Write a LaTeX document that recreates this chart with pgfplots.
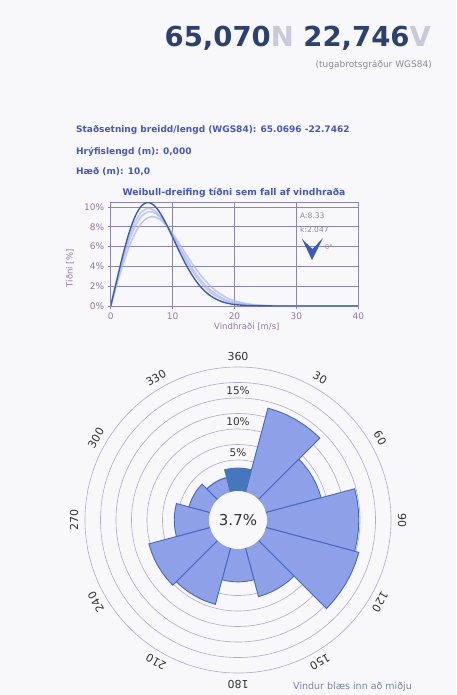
\documentclass[border=0pt]{standalone}
\usepackage{pgfplots}
\pgfplotsset{compat=1.18}
\usepgfplotslibrary{polar}
\usepackage{fontspec}
\setmainfont{DejaVu Sans}
\definecolor{bgc}{HTML}{F8F8FA}
\definecolor{titleblue}{HTML}{2D4170}
\definecolor{titlelight}{HTML}{C9C9DB}
\definecolor{subgray}{HTML}{8A8A9A}
\definecolor{infoblue}{HTML}{4457C4}
\definecolor{gridc}{HTML}{8C84B4}
\definecolor{tickc}{HTML}{8F7A9F}
\definecolor{curvec}{HTML}{3A5CB2}
\definecolor{faintc}{HTML}{A9B7EC}
\definecolor{rosefill}{HTML}{8EA0E8}
\definecolor{roseedge}{HTML}{4467C4}
\definecolor{selfill}{HTML}{4677BC}
\definecolor{ringc}{HTML}{B1A8D2}
\definecolor{labeldark}{HTML}{333333}
\definecolor{footc}{HTML}{7C82A8}
\begin{document}
\begin{tikzpicture}[x=1pt,y=1pt]
\useasboundingbox (0,0) rectangle (456,-695);
\fill[bgc] (0,0) rectangle (456,-695);
% header
\node[anchor=base east, inner sep=0] at (431,-47) {\fontsize{27.5}{30}\selectfont\bfseries\color{titleblue}65,070\textcolor{titlelight}{N} 22,746\textcolor{titlelight}{V}};
\node[anchor=base east, inner sep=0] at (432,-68) {\fontsize{9}{10}\selectfont\color{subgray}(tugabrotsgráður WGS84)};
\node[anchor=base west, inner sep=0] at (76,-133) {\fontsize{9}{11}\selectfont\bfseries\color{infoblue}Staðsetning breidd/lengd (WGS84): 65.0696 -22.7462};
\node[anchor=base west, inner sep=0] at (76,-155) {\fontsize{9}{11}\selectfont\bfseries\color{infoblue}Hrýfislengd (m): 0,000};
\node[anchor=base west, inner sep=0] at (76,-175) {\fontsize{9}{11}\selectfont\bfseries\color{infoblue}Hæð (m): 10,0};
\node[anchor=base, inner sep=0] at (234,-195) {\fontsize{9.2}{11}\selectfont\bfseries\color{infoblue}Weibull-dreifing tíðni sem fall af vindhraða};
% Weibull plot
\begin{axis}[at={(110.7pt,-306pt)}, anchor=south west, scale only axis,
  width=247.6pt, height=104pt,
  xmin=0, xmax=40, ymin=0, ymax=10.5,
  xtick={0,10,20,30,40}, ytick={0,2,4,6,8,10},
  yticklabel={\pgfmathprintnumber{\tick}\%},
  grid=major, grid style={color=gridc, line width=0.6pt},
  axis line style={color=gridc, line width=0.6pt},
  tick style={color=gridc, line width=0.6pt},
  tick align=outside, tick pos=left, major tick length=3pt,
  ticklabel style={font=\fontsize{9}{10}\selectfont, color=tickc},
  /pgf/number format/assume math mode=true,
  xlabel={Vindhraði [m/s]}, ylabel={Tíðni [\%]},
  label style={font=\fontsize{8.5}{10}\selectfont, color=tickc},
  xlabel style={at={(axis description cs:0.55,-0.2)}, anchor=center},
  ylabel style={at={(axis description cs:-0.165,0.36)}, anchor=center},
  clip=true]
\addplot[faintc, opacity=0.7, line width=1.6pt, smooth] coordinates {
 (0,0) (1,2.44) (2,4.70) (3,6.63) (4,8.11) (5,9.07) (6,9.50) (7,9.44) (8,8.96) (9,8.18) (10,7.18) (11,6.10) (12,5.01) (13,3.99) (14,3.08) (15,2.30) (16,1.68) (17,1.19) (18,0.81) (19,0.54) (20,0.35) (22,0.14) (25,0.03) (30,0) (40,0)};
\addplot[faintc, opacity=0.7, line width=1.6pt, smooth] coordinates {
 (0,0) (1,2.19) (2,4.24) (3,6.02) (4,7.42) (5,8.40) (6,8.92) (7,9.01) (8,8.72) (9,8.13) (10,7.32) (11,6.38) (12,5.39) (13,4.43) (14,3.54) (15,2.75) (16,2.08) (17,1.53) (18,1.10) (19,0.77) (20,0.53) (22,0.23) (25,0.05) (30,0) (40,0)};
\addplot[faintc, opacity=0.7, line width=1.6pt, smooth] coordinates {
 (0,0) (1,2.61) (2,5.01) (3,7.04) (4,8.56) (5,9.50) (6,9.85) (7,9.68) (8,9.08) (9,8.16) (10,7.05) (11,5.88) (12,4.73) (13,3.68) (14,2.78) (15,2.03) (16,1.44) (17,0.99) (18,0.66) (19,0.43) (20,0.27) (22,0.10) (25,0.02) (30,0) (40,0)};
\addplot[curvec, line width=1.4pt, smooth] coordinates {
 (0,0) (1,2.64) (2,5.23) (3,7.45) (4,9.12) (5,10.13) (6,10.46) (7,10.17) (8,9.38) (9,8.26) (10,6.95) (11,5.62) (12,4.36) (13,3.26) (14,2.34) (15,1.62) (16,1.08) (17,0.70) (18,0.43) (19,0.26) (20,0.15) (22,0.05) (25,0.01) (30,0) (40,0)};
\end{axis}
\node[anchor=base west, inner sep=0, color=subgray] at (300,-218) {\fontsize{7.5}{9}\selectfont A:8.33};
\node[anchor=base west, inner sep=0, color=subgray] at (300,-232) {\fontsize{7.5}{9}\selectfont k:2.047};
\fill[curvec] (302,-239) -- (312,-260) -- (323,-238) -- (312.5,-249) -- cycle;
\node[anchor=west, inner sep=0, color=subgray] at (325,-247) {\fontsize{6.5}{8}\selectfont 0°};
% wind rose
\begin{polaraxis}[at={(238pt,-520pt)}, anchor=center, scale only axis,
  width=322.4pt, height=322.4pt, ymin=0, ymax=26,
  xtick=\empty,
  ytick={7.18,9.68,12.18,14.68,17.18,19.68,22.18,24.68}, yticklabels={},
  ymajorgrids=true, xmajorgrids=false,
  grid style={color=ringc, line width=0.6pt},
  axis line style={draw=none}, major tick length=0pt,
  x filter/.expression={90-x}, y filter/.expression={y+4.68},
  clip=false]
\addplot[draw=roseedge, fill=rosefill, line width=0.9pt] coordinates {(15,0) (15,14.0) (20,14.0) (25,14.0) (30,14.0) (35,14.0) (40,14.0) (45,14.0) (45,0)} -- cycle;
\addplot[draw=roseedge, fill=rosefill, line width=0.9pt] coordinates {(45,0) (45,9.2) (50,9.2) (55,9.2) (60,9.2) (65,9.2) (70,9.2) (75,9.2) (75,0)} -- cycle;
\addplot[draw=roseedge, fill=rosefill, line width=0.9pt] coordinates {(75,0) (75,14.8) (80,14.8) (85,14.8) (90,14.8) (95,14.8) (100,14.8) (105,14.8) (105,0)} -- cycle;
\addplot[draw=roseedge, fill=rosefill, line width=0.9pt] coordinates {(105,0) (105,15.5) (110,15.5) (115,15.5) (120,15.5) (125,15.5) (130,15.5) (135,15.5) (135,0)} -- cycle;
\addplot[draw=roseedge, fill=rosefill, line width=0.9pt] coordinates {(135,0) (135,8.1) (140,8.1) (145,8.1) (150,8.1) (155,8.1) (160,8.1) (165,8.1) (165,0)} -- cycle;
\addplot[draw=roseedge, fill=rosefill, line width=0.9pt] coordinates {(165,0) (165,5.3) (170,5.3) (175,5.3) (180,5.3) (185,5.3) (190,5.3) (195,5.3) (195,0)} -- cycle;
\addplot[draw=roseedge, fill=rosefill, line width=0.9pt] coordinates {(195,0) (195,9.4) (200,9.4) (205,9.4) (210,9.4) (215,9.4) (220,9.4) (225,9.4) (225,0)} -- cycle;
\addplot[draw=roseedge, fill=rosefill, line width=0.9pt] coordinates {(225,0) (225,10.2) (230,10.2) (235,10.2) (240,10.2) (245,10.2) (250,10.2) (255,10.2) (255,0)} -- cycle;
\addplot[draw=roseedge, fill=rosefill, line width=0.9pt] coordinates {(255,0) (255,5.6) (260,5.6) (265,5.6) (270,5.6) (275,5.6) (280,5.6) (285,5.6) (285,0)} -- cycle;
\addplot[draw=roseedge, fill=rosefill, line width=0.9pt] coordinates {(285,0) (285,3.5) (290,3.5) (295,3.5) (300,3.5) (305,3.5) (310,3.5) (315,3.5) (315,0)} -- cycle;
\addplot[draw=roseedge, fill=rosefill, line width=0.9pt] coordinates {(315,0) (315,2.4) (320,2.4) (325,2.4) (330,2.4) (335,2.4) (340,2.4) (345,2.4) (345,0)} -- cycle;
\addplot[draw=selfill, fill=selfill, line width=0.9pt] coordinates {(-15,0) (-15,3.7) (-10,3.7) (-5,3.7) (0,3.7) (5,3.7) (10,3.7) (15,3.7) (15,0)} -- cycle;
\end{polaraxis}
\fill[bgc] (238,-520) circle (29);
\node[inner sep=0, color=labeldark] at (238,-520) {\fontsize{15}{18}\selectfont 3.7\%};
\node[inner sep=0, color=labeldark] at (238,-453) {\fontsize{10.5}{12}\selectfont 5\%};
\node[inner sep=0, color=labeldark] at (238,-422) {\fontsize{10.5}{12}\selectfont 10\%};
\node[inner sep=0, color=labeldark] at (238,-391) {\fontsize{10.5}{12}\selectfont 15\%};
\foreach \c/\t in {0/360,30/30,60/60,90/90,120/120,150/150,180/180,210/210,240/240,270/270,300/300,330/330}
  \node[rotate=-\c, inner sep=0, color=labeldark] at ([shift={({90-\c}:164)}]238,-520) {\fontsize{11}{13}\selectfont\t};
\node[anchor=base west, inner sep=0, color=footc] at (293,-689) {\fontsize{9.5}{11}\selectfont Vindur blæs inn að miðju};
\end{tikzpicture}
\end{document}
